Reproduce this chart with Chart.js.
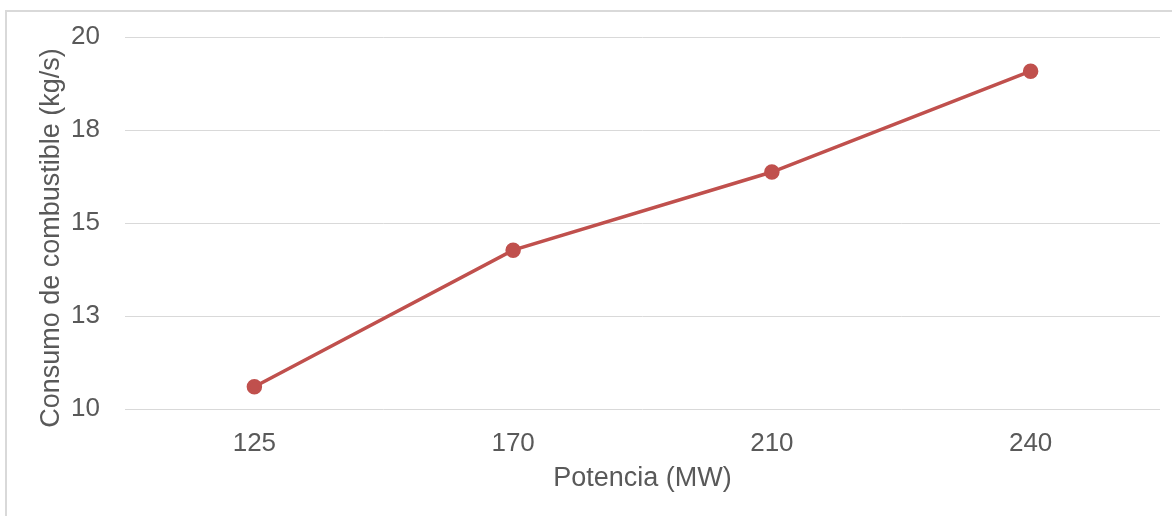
<!DOCTYPE html>
<html>
<head>
<meta charset="utf-8">
<script src="https://cdn.jsdelivr.net/npm/chart.js@4"></script>
<style>
  html, body { margin: 0; padding: 0; background: #fff; }
  #wrap { position: relative; width: 1172px; height: 516px; overflow: hidden; }
  #frame { position: absolute; left: 5px; top: 10px; width: 1200px; height: 600px; border: 2px solid #d9d9d9; box-sizing: border-box; }
  canvas { position: absolute; left: 0; top: 0; }
</style>
</head>
<body>
<div id="wrap">
  <div id="frame"></div>
  <canvas id="c" width="1172" height="516"></canvas>
</div>
<script>
const potencia = ['125', '170', '210', '240'];
const consumo = [10.6, 14.27, 16.37, 19.08];
const yTicks = [10, 12.5, 15, 17.5, 20];

const gray = '#595959';
const tickFont = { family: 'Liberation Sans, Arial, sans-serif', size: 26 };
const titleFont = { family: 'Liberation Sans, Arial, sans-serif', size: 27 };

new Chart(document.getElementById('c'), {
  type: 'line',
  data: {
    labels: potencia,
    datasets: [{
      data: consumo,
      borderColor: '#c0504d',
      backgroundColor: '#c0504d',
      borderWidth: 3.5,
      pointRadius: 6,
      pointHoverRadius: 6,
      tension: 0,
      fill: false
    }]
  },
  options: {
    responsive: false,
    animation: false,
    layout: { padding: { left: 0, top: 37, right: 12, bottom: 0 } },
    plugins: { legend: { display: false }, tooltip: { enabled: false } },
    scales: {
      x: {
        offset: true,
        grid: { display: false },
        border: { display: false },
        ticks: { color: gray, font: tickFont, padding: 11 },
        title: { display: true, text: 'Potencia (MW)', color: gray, font: titleFont, padding: { top: 0, bottom: 21 } },
        afterFit: s => { s.height = 107; }
      },
      y: {
        min: 10,
        max: 20,
        afterBuildTicks: s => { s.ticks = yTicks.map(v => ({ value: v })); },
        // invisible tick marks give the label gap without padding the top of the plot
        grid: { color: '#d9d9d9', lineWidth: 1, drawTicks: true, tickLength: 25, tickColor: 'rgba(0,0,0,0)' },
        border: { display: false },
        ticks: { color: gray, font: tickFont, padding: 0, callback: v => Math.round(v) },
        // trailing spaces nudge the rotated title down to where Excel put it
        title: { display: true, text: 'Consumo de combustible (kg/s)\u00a0\u00a0\u00a0\u00a0', color: gray, font: titleFont, padding: { top: 35, bottom: 0 } },
        afterFit: s => { s.width = 125; }
      }
    }
  }
});
</script>
</body>
</html>
